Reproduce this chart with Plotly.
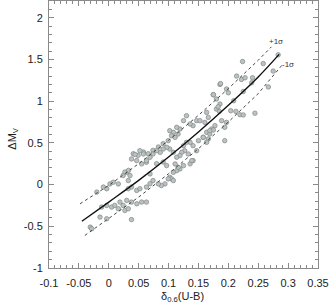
import plotly.graph_objects as go

# scatter data
pts_x = [-0.031,-0.0286,-0.0147,-0.0035,0.038,
 -0.012,-0.0035,0.0048,0.010,0.016,0.024,0.027,0.0326,0.030,0.038,0.047,0.055,0.063,0.0187,
 -0.020,-0.009,0.002,0.0075,0.016,-0.0035,
 0.0326,0.038,0.0467,0.052,0.063,0.069,
 0.024,0.030,0.0355,0.0326,0.027,0.033,
 0.038,0.0467,0.055,0.063,
 0.041,0.049,0.058,0.066,0.074,0.083,0.091,
 0.1748,0.186,0.186,0.180,
 0.147,0.141,0.136,0.130,0.125,0.119,0.1136,0.108,0.105,0.111,0.116,0.102,0.0995,
 0.1637,0.172,0.169,0.158,0.150,0.141,0.136,0.130,0.125,0.127,0.122,0.119,0.1136,0.108,0.102,0.097,0.091,0.086,0.080,0.074,0.069,0.063,0.058,0.052,
 0.141,0.136,0.125,0.119,0.1136,0.108,0.102,0.094,0.088,0.083,0.074,0.069,0.105,
 0.133,0.147,0.0968,0.116,0.139,0.0995,0.108,0.111,
 0.2834,0.2584,0.2405,0.239,0.2238,0.275,0.267,0.222,0.228,0.2139,0.187,0.197,0.200,0.209,0.175,
 0.183,0.185,0.204,0.2127,0.2194,0.225,0.2445,0.1637,0.1665,0.1608,0.1525,0.1888,0.197,0.194,
 0.1776,0.175,0.169,0.158,0.1665,0.1637,0.194,0.180,0.225,0.044,0.091,0.080]
pts_y = [-0.51,-0.53,-0.39,-0.41,-0.42,
 -0.27,-0.25,-0.27,-0.25,-0.29,-0.25,-0.31,-0.29,-0.19,-0.21,-0.23,-0.21,-0.21,-0.21,
 -0.09,-0.03,0.008,0.028,0.008,-0.05,
 -0.05,-0.03,-0.07,-0.05,-0.03,0.01,
 0.108,0.147,0.108,0.048,0.15,0.17,
 0.307,0.287,0.248,0.267,
 0.37,0.35,0.39,0.37,0.41,0.45,0.49,
 1.077,1.20,0.965,0.905,
 0.766,0.706,0.726,0.825,0.766,0.666,0.686,0.626,0.586,0.566,0.606,0.646,0.526,
 0.626,0.666,0.606,0.566,0.526,0.466,0.506,0.506,0.466,0.406,0.386,0.347,0.327,0.386,0.426,0.446,0.426,0.386,0.406,0.367,0.327,0.287,0.367,0.406,
 0.287,0.248,0.227,0.187,0.167,0.147,0.087,0.008,-0.012,0.008,0.048,0.128,0.068,
 0.367,0.406,0.227,0.207,0.287,0.068,0.048,0.247,
 1.555,1.45,1.28,1.22,1.475,1.36,1.17,1.26,1.28,1.30,1.21,1.145,1.10,1.005,1.077,
 0.933,0.877,0.885,0.877,0.837,0.834,0.855,0.865,0.805,0.745,0.766,0.766,0.745,0.686,
 0.706,0.654,0.646,0.566,0.547,0.506,0.526,1.025,1.116,0.36,0.27,0.25]

# fitted relation and +/-1 sigma curves
fit_x = [-0.045, 0.0, 0.05, 0.1, 0.15, 0.2, 0.25, 0.285]
fit_y = [-0.44, -0.21, 0.05, 0.33, 0.63, 0.95, 1.29, 1.56]
up_x = [-0.048, 0.0, 0.05, 0.1, 0.15, 0.2, 0.25, 0.272]
up_y = [-0.23, -0.01, 0.25, 0.53, 0.83, 1.15, 1.49, 1.65]
lo_x = [-0.04, 0.0, 0.05, 0.1, 0.15, 0.2, 0.25, 0.292]
lo_y = [-0.61, -0.41, -0.15, 0.13, 0.43, 0.75, 1.09, 1.45]

x_ticks = [-0.1, -0.05, 0, 0.05, 0.1, 0.15, 0.2, 0.25, 0.3, 0.35]
x_labels = ["-0.1", "-0.05", "0", "0.05", "0.1", "0.15", "0.2", "0.25", "0.3", "0.35"]
y_ticks = [-1, -0.5, 0, 0.5, 1, 1.5, 2]
y_labels = ["-1", "-0.5", "0", "0.5", "1", "1.5", "2"]

fig = go.Figure()
fig.add_trace(go.Scatter(x=pts_x, y=pts_y, mode="markers",
    marker=dict(size=4.5, color="#bcc2c1", line=dict(color="#808887", width=0.7))))
fig.add_trace(go.Scatter(x=up_x, y=up_y, mode="lines", line=dict(color="#444", width=1, dash="3px,3px")))
fig.add_trace(go.Scatter(x=lo_x, y=lo_y, mode="lines", line=dict(color="#444", width=1, dash="3px,3px")))
fig.add_trace(go.Scatter(x=fit_x, y=fit_y, mode="lines", line=dict(color="#111", width=1.4, shape="spline")))

font = dict(family="Liberation Sans, Arial, sans-serif", size=11, color="#222")
axis_common = dict(showgrid=False, zeroline=False, showline=True, linecolor="#8a8a8a", linewidth=1,
                   mirror="allticks", ticks="inside", ticklen=5, tickcolor="#8a8a8a", tickfont=font,
                   automargin=False)
fig.update_xaxes(range=[-0.1, 0.35], tickvals=x_ticks, ticktext=x_labels, ticklabelstandoff=5,
                 minor=dict(dtick=0.01, ticks="inside", ticklen=3, tickcolor="#8a8a8a"), **axis_common)
fig.update_yaxes(range=[-1, 2.2], tickvals=y_ticks, ticktext=y_labels, ticklabelstandoff=3,
                 minor=dict(dtick=0.1, ticks="inside", ticklen=3, tickcolor="#8a8a8a"), **axis_common)

fig.add_annotation(text="ΔM<sub>V</sub>", xref="paper", yref="paper", x=-0.135, y=0.487,
                   textangle=-90, showarrow=False, font=font, xanchor="center", yanchor="middle")
fig.add_annotation(text="δ<sub>0.6</sub>(U-B)", xref="paper", yref="paper", x=0.498, y=-0.108,
                   showarrow=False, font=font, xanchor="center", yanchor="middle")
fig.add_annotation(text="+1σ", x=0.2796, y=1.72, showarrow=False,
                   font=dict(family="Liberation Sans, Arial", size=8, color="#333"))
fig.add_annotation(text="-1σ", x=0.3, y=1.44, showarrow=False,
                   font=dict(family="Liberation Sans, Arial", size=8, color="#333"))

fig.update_layout(width=329, height=307, margin=dict(l=49, r=11, t=1, b=39),
                  plot_bgcolor="white", paper_bgcolor="white", showlegend=False)
fig.write_html("out.html", config={"displayModeBar": False},
               post_script="document.body.style.margin='0';document.body.style.padding='0';document.body.style.overflow='hidden';")
